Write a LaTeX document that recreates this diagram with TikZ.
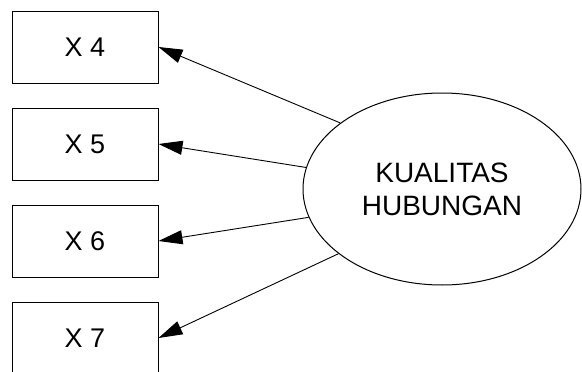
\documentclass[tikz,border=0pt]{standalone}
\usepackage{fontspec}
\setmainfont{Liberation Sans}
\usetikzlibrary{arrows.meta,positioning,shapes.geometric}

\begin{document}
\begin{tikzpicture}[>={Triangle[length=24pt,width=14pt]},node distance=24pt,
box/.style={draw,line width=1pt,minimum width=146pt,minimum height=72pt,font=\fontsize{27}{33}\selectfont},
latent/.style={draw,ellipse,line width=1pt,minimum width=278pt,minimum height=192pt,inner sep=0pt,align=center,font=\fontsize{28}{33}\selectfont},
load/.style={->,line width=0.9pt}]
\useasboundingbox (0,0) rectangle (582pt,-372pt);
\node[box] (x4) at (85pt,-47pt) {X 4};
\node[box,below=of x4] (x5) {X 5};
\node[box,below=of x5] (x6) {X 6};
\node[box,below=of x6] (x7) {X 7};
\node[latent] (kh) at (442pt,-189pt) {KUALITAS\\HUBUNGAN};
\draw[load] (kh.147)--(x4.east);
\draw[load] (kh.171)--(x5.east);
\draw[load] (kh.192)--(x6.east);
\draw[load] (kh.212)--(x7.east);
\end{tikzpicture}
\end{document}
